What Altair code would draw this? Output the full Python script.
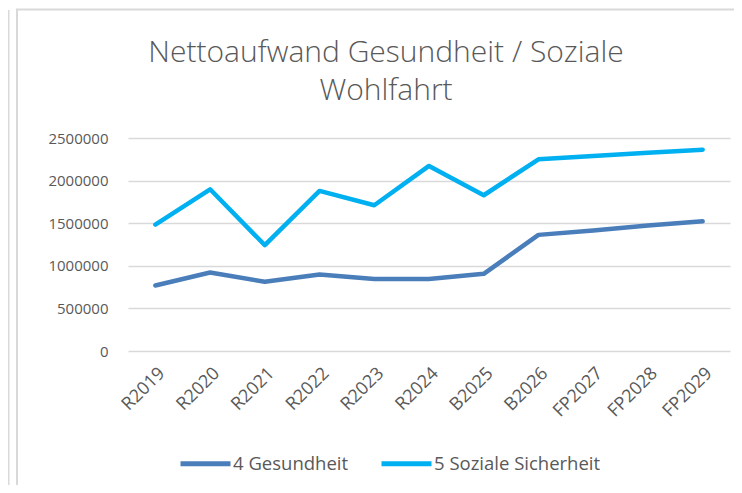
import altair as alt
import pandas as pd

categories = ["R2019", "R2020", "R2021", "R2022", "R2023", "R2024",
              "B2025", "B2026", "FP2027", "FP2028", "FP2029"]
gesundheit = [769000, 922000, 812000, 898000, 844000, 846000,
              906000, 1363000, 1414000, 1473000, 1523000]
soziale = [1484000, 1898000, 1242000, 1879000, 1711000, 2172000,
           1828000, 2250000, 2289000, 2328000, 2363000]
series_names = ["4 Gesundheit", "5 Soziale Sicherheit"]
series_colors = ["#4a7ebb", "#00b0f0"]
y_ticks = [0, 500000, 1000000, 1500000, 2000000, 2500000]
title_text = "Nettoaufwand Gesundheit / Soziale\nWohlfahrt"

rows = []
for name, vals in zip(series_names, [gesundheit, soziale]):
    for c, v in zip(categories, vals):
        rows.append({"Kategorie": c, "Serie": name, "Wert": v})
df = pd.DataFrame(rows)

TXT = "#595959"
FONT = "Open Sans"

lines = alt.Chart(df).mark_line(strokeWidth=4.5, strokeCap="round", strokeJoin="round").encode(
    x=alt.X("Kategorie:N", sort=categories, title=None,
            scale=alt.Scale(type="point", padding=0.5),
            axis=alt.Axis(labelAngle=315, labelFontSize=18, labelColor=TXT, labelFont=FONT,
                          domain=False, ticks=False, labelPadding=13, grid=False)),
    y=alt.Y("Wert:Q", title=None,
            scale=alt.Scale(domain=[0, 2500000], nice=False),
            axis=alt.Axis(values=y_ticks, format="d", labelFontSize=15, labelColor=TXT,
                          labelFont=FONT, domain=False, ticks=False, labelPadding=20,
                          grid=True, gridColor="#d9d9d9", gridWidth=1.3)),
    color=alt.Color("Serie:N", scale=alt.Scale(domain=series_names, range=series_colors),
                    legend=alt.Legend(title=None, orient="none", legendX=50, legendY=298,
                                      direction="horizontal", symbolType="stroke",
                                      symbolSize=2500, symbolStrokeWidth=5,
                                      labelFontSize=18.5, labelColor=TXT, labelFont=FONT,
                                      labelOffset=0, columnPadding=22, labelLimit=400)),
)

frame = pd.DataFrame({"a": [0]})
vline1 = alt.Chart(frame).mark_rule(color="#d9d9d9", strokeWidth=2).encode(
    x=alt.value(-111), y=alt.value(-129), y2=alt.value(347))
vline2 = alt.Chart(frame).mark_rule(color="#d9d9d9", strokeWidth=2).encode(
    x=alt.value(-119.5), y=alt.value(-128), y2=alt.value(347))
hline = alt.Chart(frame).mark_rule(color="#d9d9d9", strokeWidth=2).encode(
    x=alt.value(-112), x2=alt.value(610), y=alt.value(-128.5))

title_df = pd.DataFrame({"t": [title_text]})
title = alt.Chart(title_df).mark_text(
    font=FONT, fontSize=30, fontWeight=300, color=TXT, lineBreak="\n", lineHeight=38,
    align="center", baseline="alphabetic").encode(
    text="t:N", x=alt.value(258), y=alt.value(-76))

chart = alt.layer(vline1, vline2, hline, title, lines).properties(
    width=602, height=213,
    padding={"left": 120, "top": 130, "right": 4, "bottom": 134},
    autosize=alt.AutoSizeParams(type="none"),
).configure_view(stroke=None)

chart.save("out.html", embed_options={"renderer": "svg", "actions": False})
